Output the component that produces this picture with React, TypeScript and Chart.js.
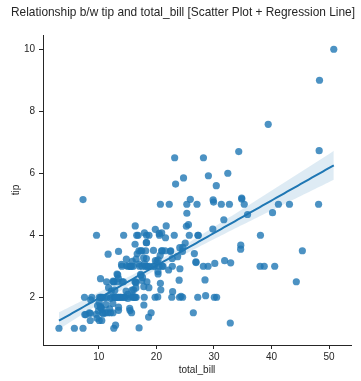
import React, { useEffect, useRef } from "react";
import { Chart, registerables } from "chart.js";

Chart.register(...registerables);

const TITLE = "Relationship b/w tip and total_bill [Scatter Plot + Regression Line]";
const X_LABEL = "total_bill";
const Y_LABEL = "tip";

const totalBill = [
  16.99, 10.34, 21.01, 23.68, 24.59, 25.29, 8.77, 26.88, 15.04, 14.78, 10.27, 35.26, 15.42, 18.43, 14.83, 21.58,
  10.33, 16.29, 16.97, 20.65, 17.92, 20.29, 15.77, 39.42, 19.82, 17.81, 13.37, 12.69, 21.7, 19.65, 9.55, 18.35,
  15.06, 20.69, 17.78, 24.06, 16.31, 16.93, 18.69, 31.27, 16.04, 17.46, 13.94, 9.68, 30.4, 18.29, 22.23, 32.4,
  28.55, 18.04, 12.54, 10.29, 34.81, 9.94, 25.56, 19.49, 38.01, 26.41, 11.24, 48.27, 20.29, 13.81, 11.02, 18.29,
  17.59, 20.08, 16.45, 3.07, 20.23, 15.01, 12.02, 17.07, 26.86, 25.28, 14.73, 10.51, 17.92, 27.2, 22.76, 17.29,
  19.44, 16.66, 10.07, 32.68, 15.98, 34.83, 13.03, 18.28, 24.71, 21.16, 28.97, 22.49, 5.75, 16.32, 22.75, 40.17,
  27.28, 12.03, 21.01, 12.46, 11.35, 15.38, 44.3, 22.42, 20.92, 15.36, 20.49, 25.21, 18.24, 14.31, 14.0, 7.25,
  38.07, 23.95, 25.71, 17.31, 29.93, 10.65, 12.43, 24.08, 11.69, 13.42, 14.26, 15.95, 12.48, 29.8, 8.52, 14.52,
  11.38, 22.82, 19.08, 20.27, 11.17, 12.26, 18.26, 8.51, 10.33, 14.15, 16.0, 13.16, 17.47, 34.3, 41.19, 27.05,
  16.43, 8.35, 18.64, 11.87, 9.78, 7.51, 14.07, 13.13, 17.26, 24.55, 19.77, 29.85, 48.17, 25.0, 13.39, 16.49,
  21.5, 12.66, 16.21, 13.81, 17.51, 24.52, 20.76, 31.71, 10.59, 10.63, 50.81, 15.81, 7.25, 31.85, 16.82, 32.9,
  17.89, 14.48, 9.6, 34.63, 34.65, 23.33, 45.35, 23.17, 40.55, 20.69, 20.9, 30.46, 18.15, 23.1, 15.69, 19.81,
  28.44, 15.48, 16.58, 7.56, 10.34, 43.11, 13.0, 13.51, 18.71, 12.74, 13.0, 16.4, 20.53, 16.47, 26.59, 38.73,
  24.27, 12.76, 30.06, 25.89, 48.33, 13.27, 28.17, 12.9, 28.15, 11.59, 7.74, 30.14, 12.16, 13.42, 8.58, 15.98,
  13.42, 16.27, 10.09, 20.45, 13.28, 22.12, 24.01, 15.69, 11.61, 10.77, 15.53, 10.07, 12.6, 32.83, 35.83, 29.03,
  27.18, 22.67, 17.82, 18.78,
];

const tip = [
  1.01, 1.66, 3.5, 3.31, 3.61, 4.71, 2.0, 3.12, 1.96, 3.23, 1.71, 5.0, 1.57, 3.0, 3.02, 3.92,
  1.67, 3.71, 3.5, 3.35, 4.08, 2.75, 2.23, 7.58, 3.18, 2.34, 2.0, 2.0, 4.3, 3.0, 1.45, 2.5,
  3.0, 2.45, 3.27, 3.6, 2.0, 3.07, 2.31, 5.0, 2.24, 2.54, 3.06, 1.32, 5.6, 3.0, 5.0, 6.0,
  2.05, 3.0, 2.5, 2.6, 5.2, 1.56, 4.34, 3.51, 3.0, 1.5, 1.76, 6.73, 3.21, 2.0, 1.98, 3.76,
  2.64, 3.15, 2.47, 1.0, 2.01, 2.09, 1.97, 3.0, 3.14, 5.0, 2.2, 1.25, 3.08, 4.0, 3.0, 2.71,
  3.0, 3.4, 1.83, 5.0, 2.03, 5.17, 2.0, 4.0, 5.85, 3.0, 3.0, 3.5, 1.0, 4.3, 3.25, 4.73,
  4.0, 1.5, 3.0, 1.5, 2.5, 3.0, 2.5, 3.48, 4.08, 1.64, 4.06, 4.29, 3.76, 4.0, 3.0, 1.0,
  4.0, 2.55, 4.0, 3.5, 5.07, 1.5, 1.8, 2.92, 2.31, 1.68, 2.5, 2.0, 2.52, 4.2, 1.48, 2.0,
  2.0, 2.18, 1.5, 2.83, 1.5, 2.0, 3.25, 1.25, 2.0, 2.0, 2.0, 2.75, 3.5, 6.7, 5.0, 5.0,
  2.3, 1.5, 1.36, 1.63, 1.73, 2.0, 2.5, 2.0, 2.74, 2.0, 2.0, 5.14, 5.0, 3.75, 2.61, 2.0,
  3.5, 2.5, 2.0, 2.0, 3.0, 3.48, 2.24, 4.5, 1.61, 2.0, 10.0, 3.16, 5.15, 3.18, 4.0, 3.11,
  2.0, 2.0, 4.0, 3.55, 3.68, 5.65, 3.5, 6.5, 3.0, 5.0, 3.5, 2.0, 3.5, 4.0, 1.5, 4.19,
  2.56, 2.02, 4.0, 1.44, 2.0, 5.0, 2.0, 2.0, 4.0, 2.01, 2.0, 2.5, 4.0, 3.23, 3.41, 3.0,
  2.03, 2.23, 2.0, 5.16, 9.0, 2.5, 6.5, 1.1, 3.0, 1.5, 1.44, 3.09, 2.2, 3.48, 1.92, 3.0,
  1.58, 2.5, 2.0, 3.0, 2.72, 2.88, 2.0, 3.0, 3.39, 1.47, 3.0, 1.25, 1.0, 1.17, 4.67, 5.92,
  2.0, 2.0, 1.75, 3.0,
];

const xTicks = [10, 20, 30, 40, 50];
const yTicks = [2, 4, 6, 8, 10];

const BLUE = "31, 119, 180";
const TEXT = "#262626";
const FONT = '"Liberation Sans", Arial, sans-serif';

// Ordinary least squares fit with 95% confidence band for the mean (what the regression plot shows)
function fitRegression(xs: number[], ys: number[], steps: number) {
  const n = xs.length;
  const mx = xs.reduce((a, b) => a + b, 0) / n;
  const my = ys.reduce((a, b) => a + b, 0) / n;
  let sxx = 0;
  let sxy = 0;
  for (let i = 0; i < n; i++) {
    sxx += (xs[i] - mx) ** 2;
    sxy += (xs[i] - mx) * (ys[i] - my);
  }
  const slope = sxy / sxx;
  const intercept = my - slope * mx;
  let sse = 0;
  for (let i = 0; i < n; i++) sse += (ys[i] - (intercept + slope * xs[i])) ** 2;
  const s = Math.sqrt(sse / (n - 2));
  const lo = Math.min(...xs);
  const hi = Math.max(...xs);
  const line: { x: number; y: number }[] = [];
  const upper: { x: number; y: number }[] = [];
  const lower: { x: number; y: number }[] = [];
  for (let k = 0; k <= steps; k++) {
    const x = lo + ((hi - lo) * k) / steps;
    const yhat = intercept + slope * x;
    const se = s * Math.sqrt(1 / n + (x - mx) ** 2 / sxx);
    line.push({ x, y: yhat });
    upper.push({ x, y: yhat + 1.96 * se });
    lower.push({ x, y: yhat - 1.96 * se });
  }
  return { line, upper, lower };
}

const titlePlugin = {
  id: "figureTitle",
  afterDraw(chart: any) {
    const ctx = chart.ctx;
    ctx.save();
    ctx.font = `11.9px ${FONT}`;
    ctx.fillStyle = TEXT;
    ctx.textAlign = "center";
    ctx.textBaseline = "middle";
    ctx.fillText(TITLE, 183, 12.5);
    ctx.restore();
  },
};

export default function App() {
  const canvasRef = useRef<HTMLCanvasElement | null>(null);

  useEffect(() => {
    document.body.style.margin = "0";
    const canvas = canvasRef.current;
    if (!canvas) return;
    const fit = fitRegression(totalBill, tip, 100);
    const points = totalBill.map((x, i) => ({ x, y: tip[i] }));

    const chart = new Chart(canvas, {
      type: "scatter",
      data: {
        datasets: [
          {
            type: "line",
            label: "ci-upper",
            data: fit.upper,
            borderWidth: 0,
            pointRadius: 0,
            backgroundColor: `rgba(${BLUE}, 0.15)`,
            borderColor: "rgba(0,0,0,0)",
            fill: "+1",
            order: 1,
          } as any,
          {
            type: "line",
            label: "ci-lower",
            data: fit.lower,
            borderWidth: 0,
            pointRadius: 0,
            borderColor: "rgba(0,0,0,0)",
            fill: false,
            order: 1,
          } as any,
          {
            type: "line",
            label: "fit",
            data: fit.line,
            borderWidth: 2,
            borderColor: `rgb(${BLUE})`,
            pointRadius: 0,
            fill: false,
            order: 0,
          } as any,
          {
            type: "scatter",
            label: "points",
            data: points,
            pointRadius: 3.6,
            pointHoverRadius: 3.6,
            borderWidth: 0,
            backgroundColor: `rgba(${BLUE}, 0.8)`,
            order: 2,
          },
        ],
      },
      options: {
        animation: false,
        responsive: false,
        events: [],
        layout: { padding: { left: 0, right: 10, top: 35, bottom: 0 } },
        plugins: {
          legend: { display: false },
          tooltip: { enabled: false },
          title: { display: false },
        },
        scales: {
          x: {
            type: "linear",
            min: 0.3,
            max: 53.8,
            afterFit: (scale: any) => {
              scale.height = 36;
            },
            afterBuildTicks: (scale: any) => {
              scale.ticks = xTicks.map((v) => ({ value: v }));
            },
            border: { display: true, color: TEXT, width: 1 },
            grid: { display: true, drawOnChartArea: false, drawTicks: true, tickLength: 4, tickColor: TEXT },
            ticks: { color: TEXT, font: { family: FONT, size: 10 }, padding: 2, maxRotation: 0 },
            title: { display: true, text: X_LABEL, color: TEXT, font: { family: FONT, size: 10 }, padding: { top: 0, bottom: 5 } },
          },
          y: {
            type: "linear",
            min: 0.46,
            max: 10.46,
            afterFit: (scale: any) => {
              scale.width = 43;
            },
            afterBuildTicks: (scale: any) => {
              scale.ticks = yTicks.map((v) => ({ value: v }));
            },
            border: { display: true, color: TEXT, width: 1 },
            grid: { display: true, drawOnChartArea: false, drawTicks: true, tickLength: 4, tickColor: TEXT },
            ticks: { color: TEXT, font: { family: FONT, size: 10 }, padding: 4 },
            title: { display: true, text: Y_LABEL, color: TEXT, font: { family: FONT, size: 10 }, padding: { top: 10, bottom: 0 } },
          },
        },
      },
      plugins: [titlePlugin],
    } as any);

    return () => {
      chart.destroy();
    };
  }, []);

  return (
    <div style={{ width: 361, height: 381 }}>
      <canvas ref={canvasRef} width={361} height={381} style={{ display: "block" }} />
    </div>
  );
}
